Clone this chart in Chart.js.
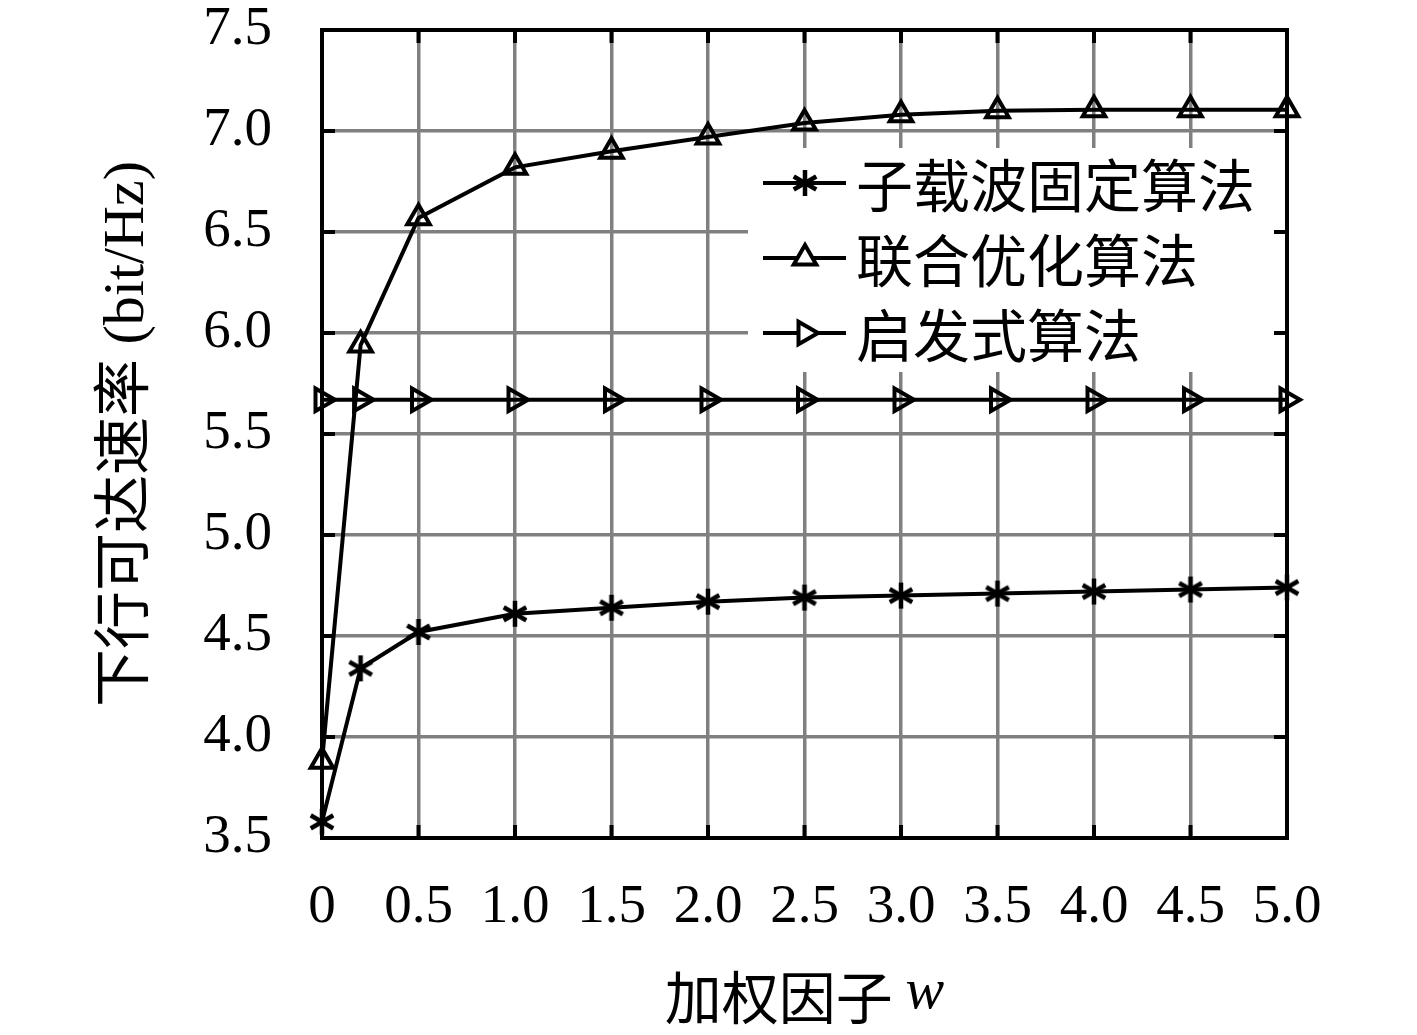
<!DOCTYPE html>
<html>
<head>
<meta charset="utf-8">
<script src="https://cdn.jsdelivr.net/npm/chart.js@4/dist/chart.umd.min.js"></script>
<style>
  html, body { margin: 0; padding: 0; background: #fff; }
  #wrap { width: 1417px; height: 1035px; }
</style>
</head>
<body>
<div id="wrap"><canvas id="rateChart" width="1417" height="1035"></canvas></div>
<script>
// weighting factor w
const weights = [0, 0.2, 0.5, 1.0, 1.5, 2.0, 2.5, 3.0, 3.5, 4.0, 4.5, 5.0];
// downlink achievable rate (bit/Hz)
const fixedSubcarrier = [3.58, 4.34, 4.52, 4.61, 4.64, 4.67, 4.69, 4.70, 4.71, 4.72, 4.73, 4.74];
const jointOpt = [3.88, 5.94, 6.57, 6.82, 6.90, 6.97, 7.04, 7.08, 7.10, 7.105, 7.105, 7.105];
const heuristic = [5.67, 5.67, 5.67, 5.67, 5.67, 5.67, 5.67, 5.67, 5.67, 5.67, 5.67, 5.67];
const seriesNames = ["子载波固定算法", "联合优化算法", "启发式算法"];
const xTitle = "加权因子";
const xTitleVar = "w";
const yTitle = "下行可达速率 (bit/Hz)";

const serif = "'Liberation Serif', 'Noto Sans CJK SC', serif";
const cjk = "'Noto Sans CJK SC', 'Liberation Serif', serif";

function makeAsterisk(size, lw) {
  const c = document.createElement("canvas");
  c.width = size; c.height = size;
  const g = c.getContext("2d");
  g.strokeStyle = "#000";
  g.lineWidth = lw;
  const r = size / 2 - 1, m = size / 2;
  [90, 30, 150].forEach(a => {
    const t = a * Math.PI / 180;
    g.beginPath();
    g.moveTo(m - r * Math.cos(t), m - r * Math.sin(t));
    g.lineTo(m + r * Math.cos(t), m + r * Math.sin(t));
    g.stroke();
  });
  return c;
}
const asterisk = makeAsterisk(28, 4.5);

const toXY = arr => arr.map((v, i) => ({ x: weights[i], y: v }));

// white legend box, drawn inside the plot
const legendPlugin = {
  id: "inLegend",
  beforeDatasetsDraw(chart) {
    const ctx = chart.ctx;
    ctx.save();
    ctx.fillStyle = "#fff";
    ctx.fillRect(748, 148, 537, 224);
    ctx.restore();
  },
  afterDatasetsDraw(chart) {
    const ctx = chart.ctx;
    const rows = [183, 258, 333];
    ctx.save();
    chart.data.datasets.forEach((ds, i) => {
      const y = rows[i];
      ctx.strokeStyle = "#000";
      ctx.lineWidth = 4;
      ctx.beginPath();
      ctx.moveTo(763, y);
      ctx.lineTo(846, y);
      ctx.stroke();
      if (ds.pointStyle === asterisk) {
        ctx.drawImage(asterisk, 805 - 14, y - 14);
      } else {
        ctx.fillStyle = "#fff";
        ctx.lineWidth = 4;
        Chart.helpers.drawPoint(ctx, {
          pointStyle: ds.pointStyle, radius: 13, rotation: ds.pointRotation || 0, borderWidth: 4
        }, 805, y);
      }
      ctx.fillStyle = "#000";
      ctx.font = "57px " + cjk;
      ctx.textBaseline = "middle";
      ctx.textAlign = "left";
      ctx.fillText(ds.label, 856, y + 2);
    });
    ctx.restore();
  }
};

// frame, inward ticks and the x title
const framePlugin = {
  id: "frame",
  afterDraw(chart) {
    const { ctx, chartArea: a, scales } = chart;
    ctx.save();
    ctx.strokeStyle = "#000";
    ctx.lineWidth = 4;
    const tl = 13;
    scales.x.ticks.forEach(t => {
      const px = scales.x.getPixelForValue(t.value);
      ctx.beginPath();
      ctx.moveTo(px, a.bottom); ctx.lineTo(px, a.bottom - tl);
      ctx.moveTo(px, a.top); ctx.lineTo(px, a.top + tl);
      ctx.stroke();
    });
    scales.y.ticks.forEach(t => {
      const py = scales.y.getPixelForValue(t.value);
      ctx.beginPath();
      ctx.moveTo(a.left, py); ctx.lineTo(a.left + tl, py);
      ctx.moveTo(a.right, py); ctx.lineTo(a.right - tl, py);
      ctx.stroke();
    });
    ctx.strokeRect(a.left, a.top, a.right - a.left, a.bottom - a.top);

    // x axis title with italic variable
    ctx.fillStyle = "#000";
    ctx.textBaseline = "middle";
    ctx.textAlign = "left";
    const f1 = "57px " + cjk;
    const f2 = "italic 58px " + serif;
    ctx.font = f1;
    const w1 = ctx.measureText(xTitle + " ").width;
    ctx.font = f2;
    const w2 = ctx.measureText(xTitleVar).width;
    const x0 = (a.left + a.right) / 2 - (w1 + w2) / 2;
    ctx.font = f1;
    ctx.fillText(xTitle + " ", x0, 997);
    ctx.font = f2;
    ctx.fillText(xTitleVar, x0 + w1, 993);
    ctx.restore();
  }
};

const config = {
  type: "line",
  data: {
    datasets: [
      {
        label: seriesNames[0],
        data: toXY(fixedSubcarrier),
        borderColor: "#000",
        borderWidth: 4,
        pointStyle: asterisk,
        pointRadius: 14,
        clip: false
      },
      {
        label: seriesNames[1],
        data: toXY(jointOpt),
        borderColor: "#000",
        borderWidth: 4,
        pointStyle: "triangle",
        pointRadius: 13,
        pointBorderWidth: 4,
        pointBackgroundColor: "rgba(0,0,0,0)",
        pointBorderColor: "#000",
        clip: false
      },
      {
        label: seriesNames[2],
        data: toXY(heuristic),
        borderColor: "#000",
        borderWidth: 4,
        pointStyle: "triangle",
        pointRotation: 90,
        pointRadius: 13,
        pointBorderWidth: 4,
        pointBackgroundColor: "rgba(0,0,0,0)",
        pointBorderColor: "#000",
        clip: false
      }
    ]
  },
  options: {
    responsive: false,
    animation: false,
    layout: { padding: { top: 30, right: 130, left: 0, bottom: 0 } },
    plugins: { legend: { display: false }, tooltip: { enabled: false } },
    scales: {
      x: {
        type: "linear",
        min: 0, max: 5,
        afterFit: s => { s.height = 197; },
        grid: { color: "#808080", lineWidth: 3.5, drawTicks: true, tickLength: 42, tickColor: "rgba(0,0,0,0)" },
        border: { display: false },
        ticks: {
          stepSize: 0.5,
          padding: 0,
          color: "#000",
          font: { family: serif, size: 55, lineHeight: 1 },
          maxRotation: 0,
          callback: v => (v === 0 ? "0" : v.toFixed(1))
        }
      },
      y: {
        min: 3.5, max: 7.5,
        afterFit: s => { s.width = 322; },
        grid: { color: "#808080", lineWidth: 3.5, drawTicks: true, tickLength: 50, tickColor: "rgba(0,0,0,0)" },
        border: { display: false },
        ticks: {
          stepSize: 0.5,
          padding: 0,
          color: "#000",
          font: { family: serif, size: 55, lineHeight: 1 },
          callback: v => v.toFixed(1)
        },
        title: {
          display: true,
          text: yTitle,
          color: "#000",
          font: { family: serif, size: 58, lineHeight: 1.2 },
          padding: { top: 93, bottom: 0 }
        }
      }
    }
  },
  plugins: [legendPlugin, framePlugin]
};

new Chart(document.getElementById("rateChart"), config);
</script>
</body>
</html>
